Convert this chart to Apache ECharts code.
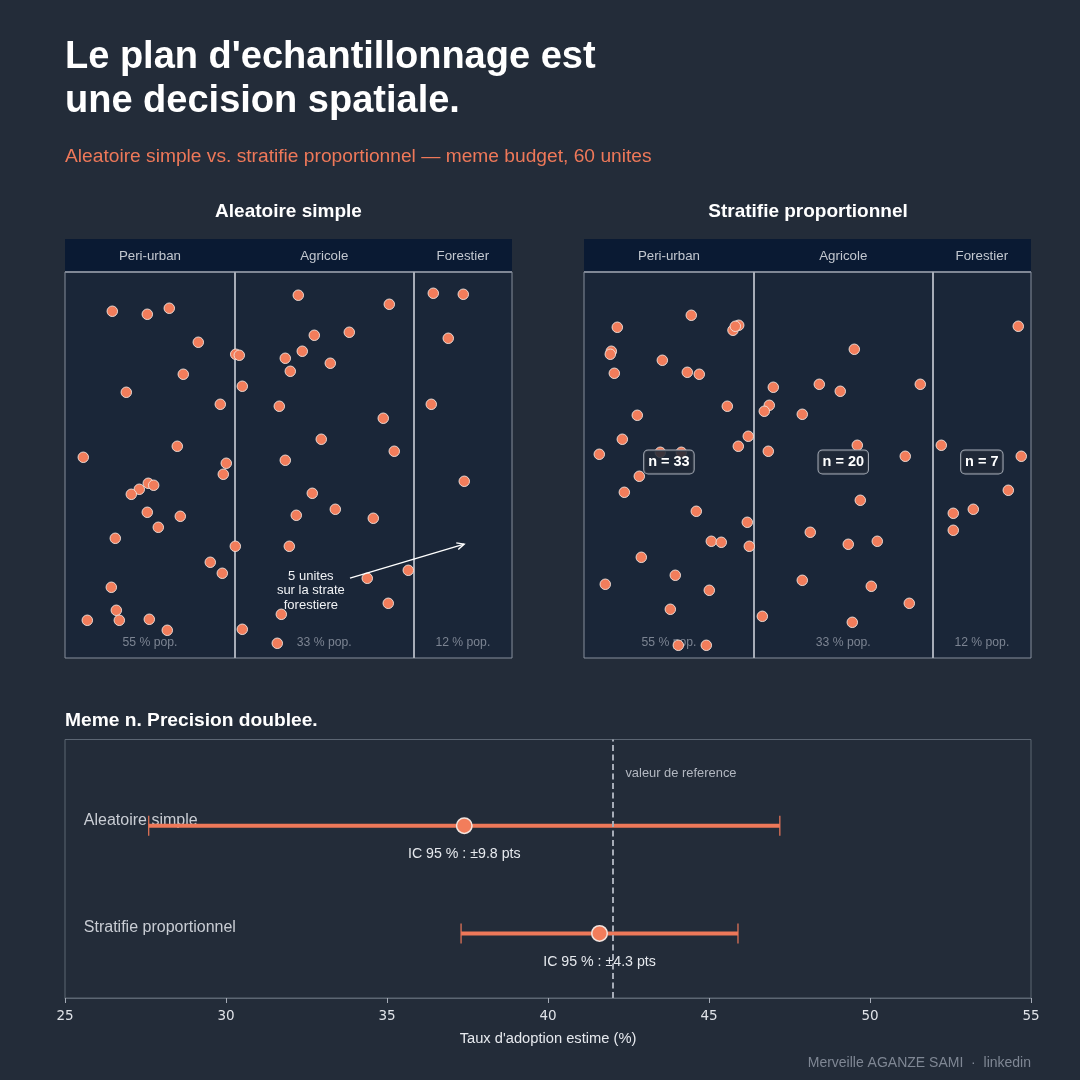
<!DOCTYPE html>
<html><head><meta charset="utf-8">
<style>html,body{margin:0;padding:0;background:#232c39}#c{width:1080px;height:1080px}</style>
<script src="https://cdn.jsdelivr.net/npm/echarts@6/dist/echarts.min.js"></script>
</head><body><div id="c"></div>
<script>
const strataNames = ['Peri-urban','Agricole','Forestier'];
const strataBreaks = [0,38,78,100];
const strataCentres = [19,58,89];
const popLabels = ['55 % pop.','33 % pop.','12 % pop.'];
const allocLabels = ['n = 33','n = 20','n = 7'];
const randomPoints = [[10.58,89.83],[18.41,89.05],[23.33,90.61],[29.82,81.80],[26.46,73.51],[13.71,68.84],[34.74,65.73],[38.19,78.69],[38.99,78.43],[39.66,70.40],[49.28,77.65],[50.40,74.28],[53.08,79.47],[55.77,83.61],[59.35,76.36],[63.60,84.39],[52.19,93.98],[72.55,91.64],[47.94,65.22],[71.20,62.11],[57.33,56.67],[82.39,94.49],[89.10,94.23],[85.74,82.83],[81.94,65.73],[25.12,54.85],[4.09,52.00],[36.08,50.45],[35.41,47.60],[18.63,45.26],[19.84,44.75],[16.62,43.71],[14.83,42.41],[18.41,37.75],[25.79,36.71],[20.87,33.86],[11.25,31.01],[38.10,28.94],[32.50,24.80],[35.19,21.95],[10.36,18.32],[11.48,12.36],[4.99,9.77],[12.15,9.77],[18.86,10.03],[22.88,7.18],[39.66,7.44],[47.49,3.81],[48.39,11.32],[49.28,51.22],[73.66,53.56],[55.32,42.67],[51.74,36.97],[60.47,38.53],[68.97,36.20],[50.18,28.94],[67.62,20.65],[76.80,22.72],[72.32,14.17],[89.32,45.78]];
const stratifiedPoints = [[24.00,88.79],[7.45,85.68],[33.33,84.91],[34.61,86.20],[33.85,85.94],[6.11,79.47],[5.88,78.69],[6.78,73.76],[17.52,77.13],[23.11,74.02],[25.79,73.51],[11.92,62.88],[32.06,65.22],[8.57,56.67],[36.75,57.44],[34.52,54.85],[60.47,79.98],[42.35,70.14],[52.64,70.91],[57.33,69.10],[75.23,70.91],[41.45,65.47],[40.33,63.92],[48.83,63.14],[61.14,55.11],[79.93,55.11],[97.15,85.94],[3.42,52.78],[17.07,53.30],[21.77,53.30],[12.37,47.08],[9.02,42.93],[25.12,38.01],[36.53,35.16],[28.48,30.24],[30.71,29.98],[36.98,28.94],[12.82,26.09],[20.42,21.43],[4.76,19.10],[28.03,17.54],[19.31,12.62],[21.10,3.29],[27.36,3.29],[41.23,53.56],[71.87,52.26],[61.81,40.86],[50.62,32.57],[59.12,29.46],[65.61,30.24],[48.83,20.13],[64.27,18.58],[72.77,14.17],[39.89,10.80],[60.02,9.25],[97.82,52.26],[94.92,43.45],[87.09,38.53],[82.61,37.49],[82.61,33.09]];
const methods = ['Aleatoire simple','Stratifie proportionnel'];
const methodRows = [1,0];
const estimates = [37.4,41.6];
const halfWidths = [9.8,4.3];
const ciLabels = ['IC 95 % : \u00b19.8 pts','IC 95 % : \u00b14.3 pts'];
const referenceValue = 42;
const arrowFrom = [63.76,20.7];
const arrowTo = [89.3,29.5];
const annotationLines = '5 unites\nsur la strate\nforestiere';

const BG='#232c39', BODY='#1a2638', HEAD='#0a1a33', ORANGE='#f27d5b', BAR='#ee7859';
const FONT='"Liberation Sans",Arial,sans-serif';
const HEADTOP=108.55;

function textPoints(list, gridIdx, label, z){
  return {type:'scatter',xAxisIndex:gridIdx,yAxisIndex:gridIdx,z:z,silent:true,symbolSize:1,
    itemStyle:{color:'transparent',borderWidth:0,opacity:1},data:list,
    label:Object.assign({show:true,position:'inside',formatter:p=>p.data[2],fontFamily:FONT,opacity:1},label)};
}
function panelSeries(idx, pts, withN){
  const s=[];
  s.push({type:'scatter',xAxisIndex:idx,yAxisIndex:idx,z:2,silent:true,data:[],
    markArea:{silent:true,z:1,
      data:[
        [{xAxis:0,yAxis:0,itemStyle:{color:BODY,borderColor:'#868e9c',borderWidth:1}},{xAxis:100,yAxis:100}],
        [{xAxis:0,yAxis:100,itemStyle:{color:HEAD,borderWidth:0}},{xAxis:100,yAxis:HEADTOP}]
      ]},
    markLine:{silent:true,symbol:'none',z:2,label:{show:false},
      data:[
        [{xAxis:0,yAxis:100,lineStyle:{color:'#7f8795',width:2,type:'solid'}},{xAxis:100,yAxis:100}],
        [{xAxis:strataBreaks[1],yAxis:0,lineStyle:{color:'#a6acb7',width:2,type:'solid'}},{xAxis:strataBreaks[1],yAxis:100}],
        [{xAxis:strataBreaks[2],yAxis:0,lineStyle:{color:'#a6acb7',width:2,type:'solid'}},{xAxis:strataBreaks[2],yAxis:100}]
      ]}});
  s.push(textPoints(strataCentres.map((x,i)=>[x,104.1,strataNames[i]]),idx,{color:'#c3c8d0',fontSize:13.3},3));
  s.push(textPoints(strataCentres.map((x,i)=>[x,3.9,popLabels[i]]),idx,{color:'#7c8492',fontSize:12.2},3));
  s.push({type:'scatter',xAxisIndex:idx,yAxisIndex:idx,z:5,silent:true,symbolSize:10.5,data:pts,
    itemStyle:{color:ORANGE,borderColor:'#f3e4de',borderWidth:0.9,opacity:1}});
  if(withN){
    s.push(textPoints(strataCentres.map((x,i)=>[x,50.8,allocLabels[i]]),idx,
      {color:'#ffffff',fontSize:14.5,fontWeight:'bold',backgroundColor:'rgba(32,41,55,0.88)',borderColor:'#a6acb7',borderWidth:1,borderRadius:4,padding:[4,4,4,4]},8));
  }
  return s;
}
const series=[...panelSeries(0,randomPoints,false),...panelSeries(1,stratifiedPoints,true)];

series.push({type:'custom',xAxisIndex:0,yAxisIndex:0,z:7,silent:true,data:[[...arrowFrom,...arrowTo]],encode:{x:[0,2],y:[1,3]},
  renderItem:(p,api)=>{
    const a=api.coord([api.value(0),api.value(1)]),b=api.coord([api.value(2),api.value(3)]);
    const ang=Math.atan2(b[1]-a[1],b[0]-a[0]),L=8,W=0.45;
    const h1=[b[0]-L*Math.cos(ang-W),b[1]-L*Math.sin(ang-W)],h2=[b[0]-L*Math.cos(ang+W),b[1]-L*Math.sin(ang+W)];
    const st={stroke:'#ffffff',lineWidth:1.4,fill:null};
    return {type:'group',children:[
      {type:'line',shape:{x1:a[0],y1:a[1],x2:b[0],y2:b[1]},style:st},
      {type:'polyline',shape:{points:[h1,b,h2]},style:st}]};
  }});
series.push(textPoints([[55,17.4,annotationLines]],0,{color:'#f0f2f5',fontSize:13,lineHeight:14.5,align:'center'},7));

series.push({type:'custom',xAxisIndex:2,yAxisIndex:2,z:4,silent:true,
  data:methodRows.map((r,i)=>[estimates[i]-halfWidths[i],estimates[i]+halfWidths[i],r]),encode:{x:[0,1],y:2},
  renderItem:(p,api)=>{
    const a=api.coord([api.value(0),api.value(2)]),b=api.coord([api.value(1),api.value(2)]);
    const cap=x=>({type:'line',shape:{x1:x,y1:a[1]-10,x2:x,y2:a[1]+10},style:{stroke:BAR,lineWidth:1.2}});
    return {type:'group',children:[
      {type:'line',shape:{x1:a[0],y1:a[1],x2:b[0],y2:b[1]},style:{stroke:BAR,lineWidth:4}},cap(a[0]),cap(b[0])]};
  },
  markLine:{silent:true,symbol:'none',label:{show:false},z:6,
    data:[{xAxis:referenceValue,lineStyle:{color:'#a6acb7',width:2,type:[6,3.5]}}]}});
series.push({type:'scatter',xAxisIndex:2,yAxisIndex:2,z:6,silent:true,symbolSize:15.5,
  data:estimates.map((e,i)=>[e,methodRows[i]]),itemStyle:{color:ORANGE,borderColor:'#f3e4de',borderWidth:1.5,opacity:1}});
series.push(textPoints(estimates.map((e,i)=>[e,methodRows[i]-0.262,ciLabels[i]]),2,{color:'#e6e9ee',fontSize:14.2},3));
series.push(textPoints(methods.map((m,i)=>[25.6,methodRows[i]+0.05,m]),2,{color:'#c9cdd4',fontSize:16,position:'right',distance:-1},3));
series.push(textPoints([[42.42,1.485,'valeur de reference']],2,{color:'#b3b8c1',fontSize:12.9,position:'right',distance:-1},3));

const hiddenX=i=>({gridIndex:i,type:'value',min:0,max:100,show:false,splitLine:{show:false}});
const hiddenY=i=>({gridIndex:i,type:'value',min:0,max:HEADTOP,show:false,splitLine:{show:false}});
const T=(o)=>Object.assign({padding:0},o);
const option={
  animation:false,backgroundColor:BG,
  textStyle:{fontFamily:FONT},
  title:[
    T({text:"Le plan d'echantillonnage est\nune decision spatiale.",left:65,top:36,textStyle:{color:'#ffffff',fontSize:38,fontWeight:'bold',lineHeight:44,fontFamily:FONT}}),
    T({text:'Aleatoire simple vs. stratifie proportionnel \u2014 meme budget, 60 unites',left:65,top:147,textStyle:{color:BAR,fontSize:19.2,fontWeight:'normal',fontFamily:FONT}}),
    T({text:'Aleatoire simple',left:288.5,top:202,textAlign:'center',textStyle:{color:'#ffffff',fontSize:19,fontWeight:'bold',fontFamily:FONT}}),
    T({text:'Stratifie proportionnel',left:808,top:202,textAlign:'center',textStyle:{color:'#ffffff',fontSize:19,fontWeight:'bold',fontFamily:FONT}}),
    T({text:'Meme n. Precision doublee.',left:65,top:711,textStyle:{color:'#ffffff',fontSize:19.2,fontWeight:'bold',fontFamily:FONT}}),
    T({text:'Merveille AGANZE SAMI  \u00b7  linkedin',right:49,top:1056,textStyle:{color:'#7f8794',fontSize:14,fontWeight:'normal',fontFamily:FONT}})
  ],
  grid:[
    {left:65,top:239,width:447,height:419},
    {left:584,top:239,width:447,height:419},
    {left:65,top:739.5,width:966,height:258.5,show:true,borderColor:'#5c6673',borderWidth:1,backgroundColor:'transparent'}
  ],
  xAxis:[hiddenX(0),hiddenX(1),
    {gridIndex:2,type:'value',min:25,max:55,interval:5,position:'bottom',splitLine:{show:false},
     axisLine:{show:true,onZero:false,lineStyle:{color:'#5c6673',width:1}},axisTick:{show:true,length:5,lineStyle:{color:'#a6acb7'}},
     axisLabel:{color:'#e0e3e8',fontSize:13.5,fontFamily:'"DejaVu Sans"',margin:11,showMinLabel:true,showMaxLabel:true},
     name:"Taux d'adoption estime (%)",nameLocation:'middle',nameGap:33,nameTextStyle:{color:'#e6e9ee',fontSize:14.7,fontFamily:FONT}}],
  yAxis:[hiddenY(0),hiddenY(1),
    {gridIndex:2,type:'value',min:-0.6,max:1.8,show:false,splitLine:{show:false}}],
  series
};
const chart=echarts.init(document.getElementById('c'),null,{renderer:'canvas',width:1080,height:1080});
chart.setOption(option);
</script></body></html>
